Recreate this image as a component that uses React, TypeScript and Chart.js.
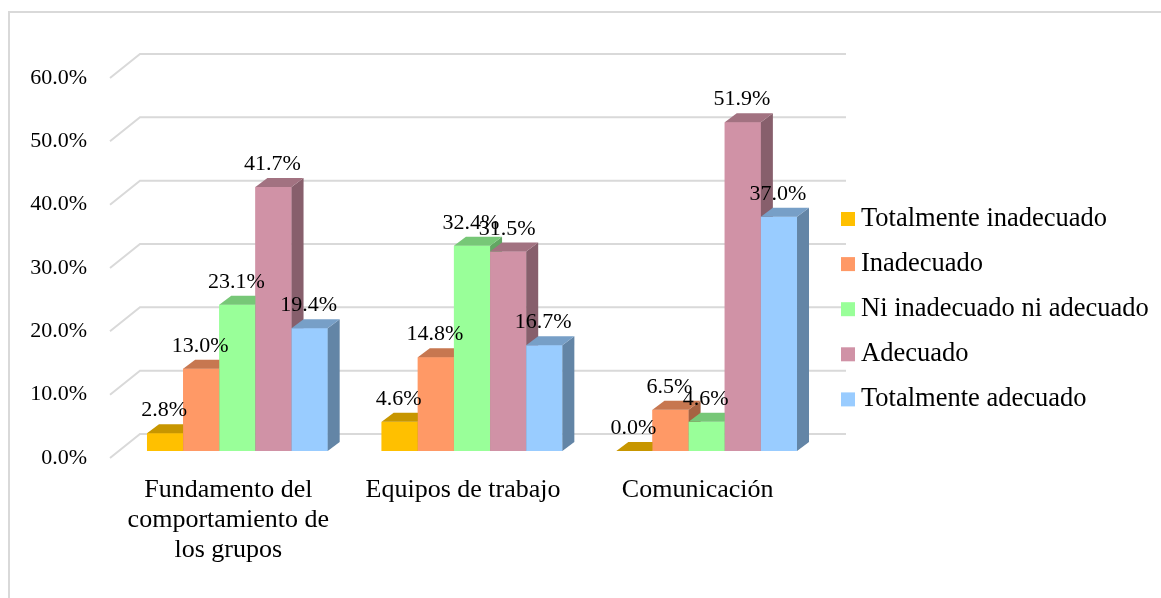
import React, { useEffect, useRef } from "react";
import { Chart, registerables } from "chart.js";

Chart.register(...registerables);

const FONT = "'Liberation Serif', 'Times New Roman', serif";

const CATEGORIES: (string | string[])[] = [
  ["Fundamento del", "comportamiento de", "los grupos"],
  "Equipos de trabajo",
  "Comunicación",
];

const SERIES_NAMES = [
  "Totalmente inadecuado",
  "Inadecuado",
  "Ni inadecuado ni adecuado",
  "Adecuado",
  "Totalmente adecuado",
];

const TOTALMENTE_INADECUADO = [2.8, 4.6, 0.0];
const INADECUADO = [13.0, 14.8, 6.5];
const NI_INADECUADO_NI_ADECUADO = [23.1, 32.4, 4.6];
const ADECUADO = [41.7, 31.5, 51.9];
const TOTALMENTE_ADECUADO = [19.4, 16.7, 37.0];

const SERIES_VALUES = [
  TOTALMENTE_INADECUADO,
  INADECUADO,
  NI_INADECUADO_NI_ADECUADO,
  ADECUADO,
  TOTALMENTE_ADECUADO,
];

const SERIES_COLORS = ["#FFC000", "#FF9966", "#99FF99", "#D092A6", "#99CCFF"];

const Y_MIN = 0;
const Y_MAX = 60;
const Y_STEP = 10;

const DEPTH_X = 12;
const DEPTH_Y = -9;
const GRID_COLOR = "#D9D9D9";

function shade(hex: string, f: number): string {
  const n = parseInt(hex.slice(1), 16);
  const r = Math.round(((n >> 16) & 255) * f);
  const g = Math.round(((n >> 8) & 255) * f);
  const b = Math.round((n & 255) * f);
  return `rgb(${r},${g},${b})`;
}

const bar3dPlugin = {
  id: "bar3d",
  beforeDraw(chart: any) {
    const ctx = chart.ctx;
    ctx.save();
    ctx.strokeStyle = GRID_COLOR;
    ctx.lineWidth = 2;
    ctx.beginPath();
    ctx.moveTo(9, chart.height);
    ctx.lineTo(9, 12);
    ctx.lineTo(chart.width, 12);
    ctx.stroke();
    ctx.restore();
  },
  beforeDatasetsDraw(chart: any) {
    const ctx = chart.ctx;
    const yScale = chart.scales.y;
    const { left, right } = chart.chartArea;
    ctx.save();
    ctx.strokeStyle = GRID_COLOR;
    ctx.lineWidth = 2;
    for (const t of yScale.ticks) {
      const py = yScale.getPixelForValue(t.value);
      ctx.beginPath();
      ctx.moveTo(left - 10, py + 7);
      ctx.lineTo(left + 20, py - 17);
      ctx.lineTo(right + 22, py - 17);
      ctx.stroke();
    }
    ctx.restore();
  },
  afterDatasetsDraw(chart: any) {
    const ctx = chart.ctx;
    ctx.save();
    const n = chart.data.datasets.length;
    for (let i = 0; i < n; i++) {
      const meta = chart.getDatasetMeta(i);
      const color = SERIES_COLORS[i];
      meta.data.forEach((el: any) => {
        const { x, y, base, width } = el.getProps(["x", "y", "base", "width"], true);
        const xl = x - width / 2;
        const xr = x + width / 2;
        const top = Math.min(y, base);
        ctx.fillStyle = color;
        ctx.fillRect(xl, top, width, base - top);
        ctx.fillStyle = shade(color, 0.65);
        ctx.beginPath();
        ctx.moveTo(xr, top);
        ctx.lineTo(xr + DEPTH_X, top + DEPTH_Y);
        ctx.lineTo(xr + DEPTH_X, base + DEPTH_Y);
        ctx.lineTo(xr, base);
        ctx.closePath();
        ctx.fill();
        ctx.fillStyle = shade(color, 0.78);
        ctx.beginPath();
        ctx.moveTo(xl, top);
        ctx.lineTo(xr, top);
        ctx.lineTo(xr + DEPTH_X, top + DEPTH_Y);
        ctx.lineTo(xl + DEPTH_X, top + DEPTH_Y);
        ctx.closePath();
        ctx.fill();
      });
    }
    ctx.fillStyle = "#000";
    ctx.font = `22px ${FONT}`;
    ctx.textAlign = "center";
    ctx.textBaseline = "alphabetic";
    for (let i = 0; i < n; i++) {
      const meta = chart.getDatasetMeta(i);
      meta.data.forEach((el: any, j: number) => {
        const { x, y, base } = el.getProps(["x", "y", "base"], true);
        const top = Math.min(y, base);
        const v = chart.data.datasets[i].data[j];
        ctx.fillText(`${Number(v).toFixed(1)}%`, x - 1, top - 17);
      });
    }
    ctx.restore();
  },
  afterDraw(chart: any) {
    // legend
    const ctx = chart.ctx;
    const { right } = chart.chartArea;
    const boxX = right + 17;
    const textX = boxX + 20;
    const firstY = 219;
    const stepY = 45.1;
    ctx.save();
    ctx.font = `26.5px ${FONT}`;
    ctx.textAlign = "left";
    ctx.textBaseline = "middle";
    chart.data.datasets.forEach((ds: any, i: number) => {
      const cy = firstY + i * stepY;
      ctx.fillStyle = ds.backgroundColor;
      ctx.fillRect(boxX, cy - 7, 14, 14);
      ctx.fillStyle = "#000";
      ctx.fillText(ds.label, textX, cy);
    });
    ctx.restore();
  },
};

export default function App() {
  const ref = useRef<HTMLCanvasElement>(null);

  useEffect(() => {
    const chart = new Chart(ref.current as HTMLCanvasElement, {
      type: "bar",
      data: {
        labels: CATEGORIES as any,
        datasets: SERIES_NAMES.map((name, i) => ({
          label: name,
          data: SERIES_VALUES[i],
          backgroundColor: SERIES_COLORS[i],
          borderWidth: 0,
        })),
      },
      options: {
        animation: false,
        responsive: true,
        maintainAspectRatio: false,
        layout: { padding: { top: 71, right: 337, bottom: 0, left: 0 } },
        datasets: { bar: { categoryPercentage: 0.77, barPercentage: 1 } } as any,
        scales: {
          x: {
            grid: { display: false, drawTicks: false },
            border: { display: false },
            ticks: {
              font: { family: FONT, size: 26, lineHeight: 1.15 },
              color: "#000",
              padding: 24,
              labelOffset: -9,
              maxRotation: 0,
              minRotation: 0,
              autoSkip: false,
            },
            afterFit: (s: any) => {
              s.height = 147;
            },
          },
          y: {
            min: Y_MIN,
            max: Y_MAX,
            grid: { display: false, drawTicks: false },
            border: { display: false },
            ticks: {
              stepSize: Y_STEP,
              font: { family: FONT, size: 22 },
              color: "#000",
              padding: 33,
              labelOffset: 7,
              callback: (v: any) => `${Number(v).toFixed(1)}%`,
            },
            afterFit: (s: any) => {
              s.width = 120;
            },
          },
        },
        plugins: {
          legend: { display: false },
          tooltip: { enabled: false },
        },
      } as any,
      plugins: [bar3dPlugin],
    });
    return () => chart.destroy();
  }, []);

  return (
    <div
      style={{
        position: "fixed",
        left: 0,
        top: 0,
        width: 1161,
        height: 598,
        background: "#fff",
      }}
    >
      <canvas ref={ref} />
    </div>
  );
}
